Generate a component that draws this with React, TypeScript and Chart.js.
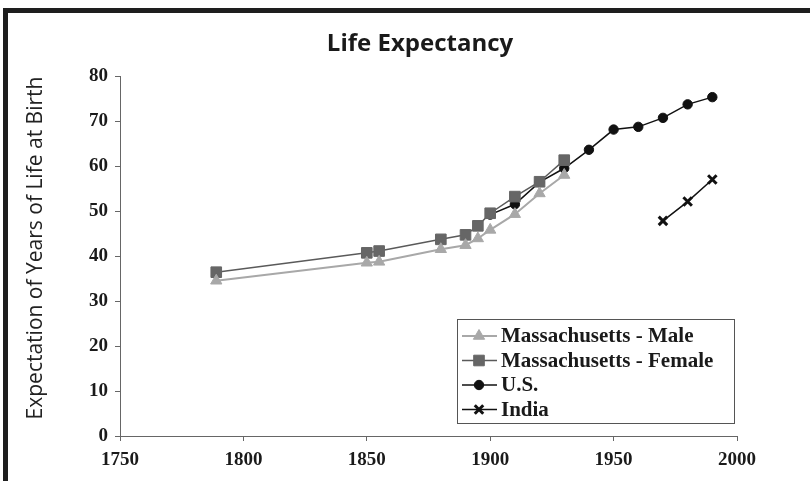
import React, { useEffect, useRef } from "react";
import { Chart, registerables } from "chart.js";
import { drawPoint } from "chart.js/helpers";

Chart.register(...registerables);

const chartTitle = "Life Expectancy";
const yAxisTitle = "Expectation of Years of Life at Birth";

const massYears = [1789, 1850, 1855, 1880, 1890, 1895, 1900, 1910, 1920, 1930];
const maleValues = [34.5, 38.5, 38.7, 41.5, 42.4, 43.9, 45.8, 49.3, 53.9, 58.0];
const femaleValues = [36.4, 40.7, 41.1, 43.7, 44.7, 46.7, 49.5, 53.2, 56.5, 61.3];
const usYears = [1900, 1910, 1920, 1930, 1940, 1950, 1960, 1970, 1980, 1990];
const usValues = [49.2, 51.5, 56.4, 59.5, 63.6, 68.1, 68.7, 70.7, 73.7, 75.3];
const indiaYears = [1970, 1980, 1990];
const indiaValues = [47.8, 52.1, 57.0];

const seriesNames = ["Massachusetts - Male", "Massachusetts - Female", "U.S.", "India"];

const toPoints = (xs: number[], ys: number[]) => xs.map((x, i) => ({ x, y: ys[i] }));

const overlayPlugin = {
  id: "overlay",
  afterDraw(chart: any) {
    const ctx = chart.ctx as CanvasRenderingContext2D;
    ctx.save();
    ctx.fillStyle = "#1a1a1a";
    ctx.textAlign = "center";
    ctx.textBaseline = "middle";
    ctx.font = 'bold 24px "Open Sans"';
    ctx.fillText(chartTitle, 420, 44);
    ctx.save();
    ctx.translate(36, 248);
    ctx.rotate(-Math.PI / 2);
    ctx.font = '21px "Open Sans"';
    ctx.fillStyle = "#222222";
    ctx.fillText(yAxisTitle, 0, 0);
    ctx.restore();

    // legend box
    const bx = 457, by = 319, bw = 277, bh = 104;
    ctx.fillStyle = "#ffffff";
    ctx.fillRect(bx, by, bw, bh);
    ctx.strokeStyle = "#555555";
    ctx.lineWidth = 1;
    ctx.strokeRect(bx + 0.5, by + 0.5, bw, bh);
    const rowY = [336, 360.5, 385, 409.5];
    chart.data.datasets.forEach((ds: any, i: number) => {
      const y = rowY[i];
      ctx.strokeStyle = ds.borderColor;
      ctx.lineWidth = ds.borderWidth;
      ctx.beginPath();
      ctx.moveTo(462, y);
      ctx.lineTo(497, y);
      ctx.stroke();
      ctx.fillStyle = ds.pointBackgroundColor;
      ctx.strokeStyle = ds.pointBorderColor;
      ctx.lineWidth = ds.pointBorderWidth;
      drawPoint(ctx, {
        pointStyle: ds.pointStyle,
        radius: ds.pointRadius,
        borderWidth: ds.pointBorderWidth,
        rotation: 0,
      } as any, 479, y);
      ctx.fillStyle = "#1a1a1a";
      ctx.textAlign = "left";
      ctx.textBaseline = "middle";
      ctx.font = 'bold 21px "Liberation Serif"';
      ctx.fillText(seriesNames[i], 501, y + 1);
    });
    ctx.restore();
  },
};

export default function App() {
  const canvasRef = useRef<HTMLCanvasElement | null>(null);

  useEffect(() => {
    const canvas = canvasRef.current;
    if (!canvas) return;
    const tickFont = { family: "Liberation Serif", size: 19, weight: "bold" as const };
    const chart = new Chart(canvas, {
      type: "line",
      data: {
        datasets: [
          {
            label: seriesNames[0],
            data: toPoints(massYears, maleValues),
            borderColor: "#a8a8a8",
            backgroundColor: "#a8a8a8",
            borderWidth: 2,
            pointStyle: "triangle",
            pointRadius: 6.5,
            pointBackgroundColor: "#a8a8a8",
            pointBorderColor: "#a8a8a8",
            pointBorderWidth: 1,
          },
          {
            label: seriesNames[1],
            data: toPoints(massYears, femaleValues),
            borderColor: "#5a5a5a",
            backgroundColor: "#666666",
            borderWidth: 1.5,
            pointStyle: "rect",
            pointRadius: 7.5,
            pointBackgroundColor: "#666666",
            pointBorderColor: "#666666",
            pointBorderWidth: 1,
          },
          {
            label: seriesNames[2],
            data: toPoints(usYears, usValues),
            borderColor: "#111111",
            backgroundColor: "#111111",
            borderWidth: 1.5,
            pointStyle: "circle",
            pointRadius: 4.7,
            pointBackgroundColor: "#111111",
            pointBorderColor: "#111111",
            pointBorderWidth: 1,
          },
          {
            label: seriesNames[3],
            data: toPoints(indiaYears, indiaValues),
            borderColor: "#111111",
            backgroundColor: "#111111",
            borderWidth: 1.5,
            pointStyle: "crossRot",
            pointRadius: 6,
            pointBackgroundColor: "#111111",
            pointBorderColor: "#111111",
            pointBorderWidth: 3,
          },
        ],
      },
      options: {
        responsive: false,
        animation: false,
        devicePixelRatio: 1,
        layout: { padding: { top: 76, right: 73, left: 0, bottom: 0 } },
        elements: { line: { tension: 0 } },
        plugins: {
          legend: { display: false },
          title: { display: false },
          tooltip: { enabled: false },
        },
        scales: {
          x: {
            type: "linear",
            min: 1750,
            max: 2000,
            afterFit: (s: any) => {
              s.height = 45;
            },
            ticks: {
              stepSize: 50,
              color: "#1a1a1a",
              font: tickFont,
              padding: 8,
              maxRotation: 0,
              callback: (v: any) => String(v),
            },
            grid: { drawOnChartArea: false, drawTicks: true, tickLength: 5, color: "#666666" },
            border: { color: "#666666", width: 1 },
          },
          y: {
            type: "linear",
            min: 0,
            max: 80,
            afterFit: (s: any) => {
              s.width = 120;
            },
            ticks: {
              stepSize: 10,
              color: "#1a1a1a",
              font: tickFont,
              padding: 7,
              callback: (v: any) => String(v),
            },
            grid: { drawOnChartArea: false, drawTicks: true, tickLength: 5, color: "#666666" },
            border: { color: "#666666", width: 1 },
          },
        },
      },
      plugins: [overlayPlugin],
    });
    return () => chart.destroy();
  }, []);

  return (
    <div style={{ position: "fixed", left: 0, top: 0, width: 810, height: 481, background: "#ffffff" }}>
      <canvas ref={canvasRef} width={810} height={481} style={{ position: "absolute", left: 0, top: 0 }} />
      <div
        style={{
          position: "absolute",
          left: 3,
          top: 8,
          right: 0,
          bottom: 0,
          borderTop: "5px solid #1e1e1e",
          borderLeft: "5px solid #1e1e1e",
          pointerEvents: "none",
        }}
      />
    </div>
  );
}
